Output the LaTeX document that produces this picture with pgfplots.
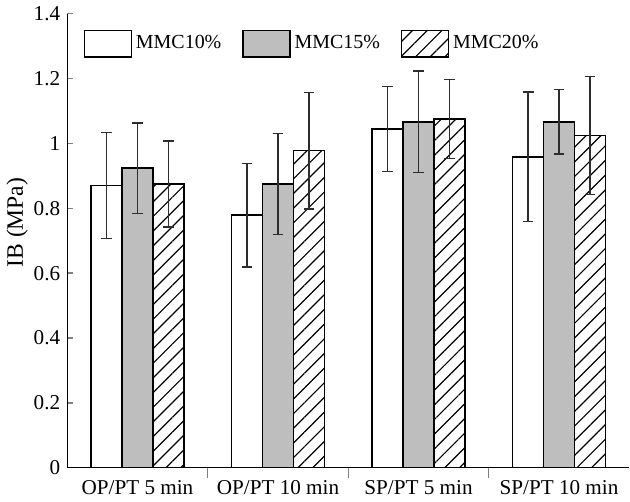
\documentclass[border=0pt]{standalone}
\usepackage{fontspec}
\setmainfont{Liberation Serif}
\usepackage{pgfplots}
\pgfplotsset{compat=1.18}
\usetikzlibrary{patterns.meta}
\definecolor{barfill}{RGB}{190,190,190}
\definecolor{errgray}{RGB}{45,45,45}

\pgfplotsset{
  boxlegend/.style={legend image code/.code={%
    \draw[##1,line width=0.7pt] (0pt,-6.75pt) rectangle (23.5pt,6.75pt);}},
}

\begin{document}
\begin{tikzpicture}[font=\fontsize{10.5}{13}\selectfont]
\begin{axis}[
  scale only axis,
  width=281.7pt,
  height=227.5pt,
  xmin=0.5, xmax=4.5,
  ymin=0, ymax=1.4,
  axis lines*=left,
  axis line style={line width=0.7pt},
  ytick={0,0.2,...,1.4},
  xtick={1,2,3,4},
  xticklabels={OP/PT 5 min,OP/PT 10 min,SP/PT 5 min,SP/PT 10 min},
  minor xtick={1.5,2.5,3.5},
  major x tick style={draw=none},
  minor x tick style={line width=0.7pt},
  minor tick length=5pt,
  major tick length=3pt,
  tick align=inside,
  ytick style={line width=0.7pt},
  tick label style={font=\fontsize{10.6}{13}\selectfont},
  ylabel style={font=\fontsize{11.8}{14}\selectfont,at={(ticklabel cs:0.54)},yshift=-4pt},
  ylabel={IB (MPa)},
  /pgf/number format/assume math mode=true,
  ybar=0pt,
  bar width=15.5pt,
  every axis plot/.append style={line width=0.75pt},
  legend columns=3,
  legend style={at={(0.018,0.975)},anchor=north west,draw=none,fill=none,
    font=\fontsize{10}{12}\selectfont,
    /tikz/every even column/.append style={column sep=8.5pt},
    nodes={inner xsep=2pt}},
  error bars/y dir=both,
  error bars/y explicit,
  error bars/error bar style={errgray,line width=0.7pt},
  error bars/error mark options={rotate=90,errgray,mark size=2.7pt,line width=0.7pt},
]
\addplot[boxlegend,draw=black,fill=white] coordinates {
  (1,0.870) +- (0,0.163)
  (2,0.779) +- (0,0.160)
  (3,1.044) +- (0,0.131)
  (4,0.959) +- (0,0.200)};
\addplot[boxlegend,draw=black,fill=barfill] coordinates {
  (1,0.924) +- (0,0.139)
  (2,0.875) +- (0,0.156)
  (3,1.067) +- (0,0.157)
  (4,1.067) +- (0,0.100)};
\addplot[boxlegend,draw=black,pattern={Lines[angle=45,distance=5.2pt,line width=0.6pt]}] coordinates {
  (1,0.875) +- (0,0.133)
  (2,0.978) +- (0,0.180)
  (3,1.076) +- (0,0.122)
  (4,1.025) +- (0,0.182)};
\legend{MMC10\%,MMC15\%,MMC20\%}
\end{axis}
\end{tikzpicture}
\end{document}
